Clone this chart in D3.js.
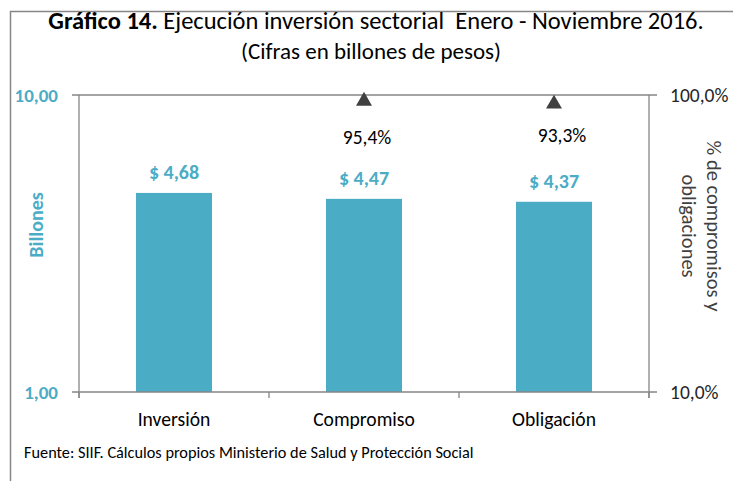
<!DOCTYPE html>
<html><head><meta charset="utf-8">
<script src="https://cdn.jsdelivr.net/npm/d3@7"></script>
<style>
body{margin:0;background:#fff;}
svg{display:block;font-family:Carlito, Lato, "Open Sans", sans-serif;}
text{white-space:pre;}
</style></head>
<body><svg id="c" width="733" height="481"></svg>
<script>
const categories = ["Inversión", "Compromiso", "Obligación"];
const values = [4.68, 4.47, 4.37];
const valueLabels = ["$ 4,68", "$ 4,47", "$ 4,37"];
const pctCategories = ["Compromiso", "Obligación"];
const pctValues = [0.954, 0.933];
const pctLabels = ["95,4%", "93,3%"];
const leftTicks = [1, 10];
const leftTickLabels = ["1,00", "10,00"];
const rightTicks = [0.1, 1];
const rightTickLabels = ["10,0%", "100,0%"];

const blue = "#4BACC6", axisCol = "#868686";
const svg = d3.select("#c");
const L = 79, R = 649, T = 95, B = 392;

// frame
svg.append("path").attr("d","M10.5,481 V11.5 H733").attr("fill","none").attr("stroke",axisCol).attr("stroke-width",1.5);

const x = d3.scaleBand().domain(categories).range([L,R]).paddingInner(0.6).paddingOuter(0.3);
const y = d3.scaleLog().domain([1,10]).range([B,T]);
const y2 = d3.scaleLog().domain([0.1,1]).range([B,T]);

// title
const t = svg.append("text").attr("x",376).attr("y",29).attr("text-anchor","middle").attr("font-size",24.5).attr("fill","#000");
t.append("tspan").attr("font-weight","bold").text("Gráfico 14.");
t.append("tspan").text(" Ejecución inversión sectorial  Enero - Noviembre 2016.");
svg.append("text").attr("x",371).attr("y",59).attr("text-anchor","middle").attr("font-size",23).attr("fill","#000").text("(Cifras en billones de pesos)");

// bars
svg.selectAll("rect.bar").data(categories).join("rect").attr("class","bar")
  .attr("x",d=>x(d)).attr("width",x.bandwidth())
  .attr("y",(d,i)=>y(values[i])).attr("height",(d,i)=>B-y(values[i])).attr("fill",blue);

// value labels
svg.selectAll("text.val").data(categories).join("text").attr("class","val")
  .attr("x",d=>x(d)+x.bandwidth()/2).attr("y",(d,i)=>y(values[i])-14)
  .attr("text-anchor","middle").attr("font-size",20).attr("font-weight","bold").attr("fill",blue)
  .text((d,i)=>valueLabels[i]);

// axes lines
const g = svg.append("g").attr("stroke",axisCol).attr("stroke-width",1.3).attr("fill","none");
g.append("line").attr("x1",L).attr("x2",L).attr("y1",T).attr("y2",B+6);
g.append("line").attr("x1",R).attr("x2",R).attr("y1",T).attr("y2",B+6);
leftTicks.forEach(v=>g.append("line").attr("x1",L-7).attr("x2",R+8).attr("y1",y(v)).attr("y2",y(v)));
const bounds = categories.map(c=>x(c)-x.step()*x.paddingInner()/2);
bounds.push(R);
bounds.forEach(bx=>g.append("line").attr("x1",bx).attr("x2",bx).attr("y1",B).attr("y2",B+6));

// left tick labels
svg.selectAll("text.lt").data(leftTicks).join("text").attr("class","lt")
  .attr("x",58).attr("y",d=>y(d)).attr("dy","0.35em").attr("text-anchor","end")
  .attr("font-size",19).attr("font-weight","bold").attr("fill",blue).text((d,i)=>leftTickLabels[i]);
// right tick labels
svg.selectAll("text.rt").data(rightTicks).join("text").attr("class","rt")
  .attr("x",670).attr("y",d=>y2(d)).attr("dy","0.35em").attr("text-anchor","start")
  .attr("font-size",19.5).attr("fill","#262626").text((d,i)=>rightTickLabels[i]);

// category labels
svg.selectAll("text.cat").data(categories).join("text").attr("class","cat")
  .attr("x",d=>x(d)+x.bandwidth()/2).attr("y",426).attr("text-anchor","middle")
  .attr("font-size",19.6).attr("fill","#000").text(d=>d);

// axis titles
svg.append("text").attr("transform","translate(43,225) rotate(-90)").attr("text-anchor","middle")
  .attr("font-size",20).attr("font-weight","bold").attr("fill",blue).text("Billones");
svg.append("text").attr("transform","translate(707,226) rotate(90)").attr("text-anchor","middle")
  .attr("font-size",20.5).attr("fill","#404040").text("% de compromisos y");
svg.append("text").attr("transform","translate(682,226) rotate(90)").attr("text-anchor","middle")
  .attr("font-size",20.5).attr("fill","#404040").text("obligaciones");

// markers
const tri = d3.symbol().type(d3.symbolTriangle).size(110);
svg.selectAll("path.mk").data(pctCategories).join("path").attr("class","mk")
  .attr("d",tri).attr("transform",(d,i)=>`translate(${x(d)+x.bandwidth()/2},${y2(pctValues[i])})`)
  .attr("fill","#404040");
svg.selectAll("text.pct").data(pctCategories).join("text").attr("class","pct")
  .attr("x",(d,i)=>x(d)+x.bandwidth()/2+(i?8:3)).attr("y",(d,i)=>y2(pctValues[i])+(i?38:43))
  .attr("text-anchor","middle").attr("font-size",19.5).attr("fill","#000").text((d,i)=>pctLabels[i]);

// source
svg.append("text").attr("x",24).attr("y",458).attr("font-size",16.3).attr("fill","#000")
  .text("Fuente: SIIF. Cálculos propios Ministerio de Salud y Protección Social");
</script></body></html>
